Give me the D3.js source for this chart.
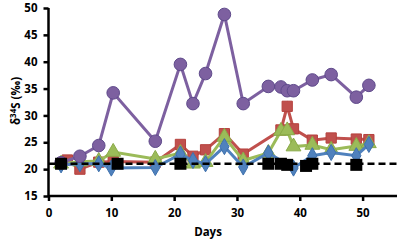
<!DOCTYPE html>
<html><head><meta charset="utf-8">
<script src="https://cdn.jsdelivr.net/npm/d3@7"></script>
<style>body{margin:0;background:#fff}svg{display:block}text{font-family:"Open Sans","Liberation Sans",sans-serif;font-weight:bold}</style>
</head><body><svg id="c" width="397" height="241"></svg>
<script>
const xTicks=[0,10,20,30,40,50];
const yTicks=[15,20,25,30,35,40,45,50];
const purpleDays=[2,5,8,10.3,17,21,23,25,28,31,35,37,38,39,42,45,49,51];
const purpleVals=[21.2,22.4,24.4,34.2,25.2,39.5,32.2,37.8,48.8,32.2,35.4,35.3,34.6,34.6,36.6,37.6,33.4,35.6];
const redDays=[3,5,8,10.3,17,21,23,25,28,31,37,38,39,42,45,49,51];
const redVals=[21.7,20,21.3,21.4,21.3,24.6,22.4,23.6,26.6,22.8,27.3,31.7,27.5,25.4,25.8,25.6,25.5];
const greenDays=[2,5,8,10.3,17,21,23,25,28,31,35,37,38,39,42,45,49,51];
const greenVals=[21,21.4,21.5,23.2,21.9,23,21,21.3,26,21.6,23,27.1,27.2,24.2,24.5,23.6,24.3,24.8];
const blueDays=[2,5,8,10,17,21,23,25,28,31,35,39,42,45,49,51];
const blueVals=[20.8,21,21,20.2,20.3,22.8,21.6,21,24.2,20.4,23,20.2,22.5,23.1,22.5,24.6];
const blackDays=[2,11,21,35,37,38,41,42,49];
const blackVals=[21,21,21,21,21,20.8,20.6,21,20.8];
const refValue=21;

const svg=d3.select("#c");
const x=d3.scaleLinear().domain([0,55]).range([48.5,394]);
const y=d3.scaleLinear().domain([15,50]).range([196,8]);

// axes
const ya=svg.append("g").attr("transform","translate(48.5,0)")
 .call(d3.axisLeft(y).tickValues(yTicks).tickSize(5).tickPadding(6));
const xa=svg.append("g").attr("transform","translate(0,196)")
 .call(d3.axisBottom(x).tickValues(xTicks).tickSize(5).tickPadding(8));
[ya,xa].forEach(g=>{g.selectAll("path,line").attr("stroke","#000").attr("stroke-width",2.5);
 g.selectAll("text").attr("font-size",11.5).attr("fill","#000").style("font-weight","bold");});
xa.select("path").attr("d",`M48.5,0H397`);
ya.select("path").attr("d",`M0,8V196`);

svg.append("text").attr("x",208).attr("y",236).attr("text-anchor","middle").attr("font-size",11.5).text("Days");
svg.append("text").attr("transform","translate(20,101) rotate(-90)").attr("text-anchor","middle").attr("font-size",11.5)
 .html('δ<tspan dy="-4" font-size="8">34</tspan><tspan dy="4">S (‰)</tspan>');

const line=d3.line().x(d=>x(d[0])).y(d=>y(d[1]));
function zip(a,b){return a.map((d,i)=>[d,b[i]]);}

function series(days,vals,color,stroke,shape,size){
 const data=zip(days,vals);
 svg.append("path").datum(data).attr("d",line).attr("fill","none").attr("stroke",color).attr("stroke-width",3);
 svg.append("g").selectAll("path").data(data).join("path")
  .attr("transform",d=>`translate(${x(d[0])},${y(d[1])})`)
  .attr("d",d3.symbol().type(shape).size(size))
  .attr("fill",color).attr("stroke",stroke).attr("stroke-width",1);
}
series(redDays,redVals,"#c0504d","#b5403d",d3.symbolSquare,105);
series(greenDays,greenVals,"#9bbb59","#8aaa48",d3.symbolTriangle,95);
series(blueDays,blueVals,"#4f81bd","#3f71ad",d3.symbolDiamond,75);
series(purpleDays,purpleVals,"#7d60a0","#5f4a8b",d3.symbolCircle,125);

svg.append("line").attr("x1",x(0)).attr("x2",397).attr("y1",y(refValue)).attr("y2",y(refValue))
 .attr("stroke","#000").attr("stroke-width",2.5).attr("stroke-dasharray","7,4");
svg.append("g").selectAll("rect").data(zip(blackDays,blackVals)).join("rect")
 .attr("x",d=>x(d[0])-6).attr("y",d=>y(d[1])-6).attr("width",12).attr("height",12).attr("fill","#000");
</script></body></html>
